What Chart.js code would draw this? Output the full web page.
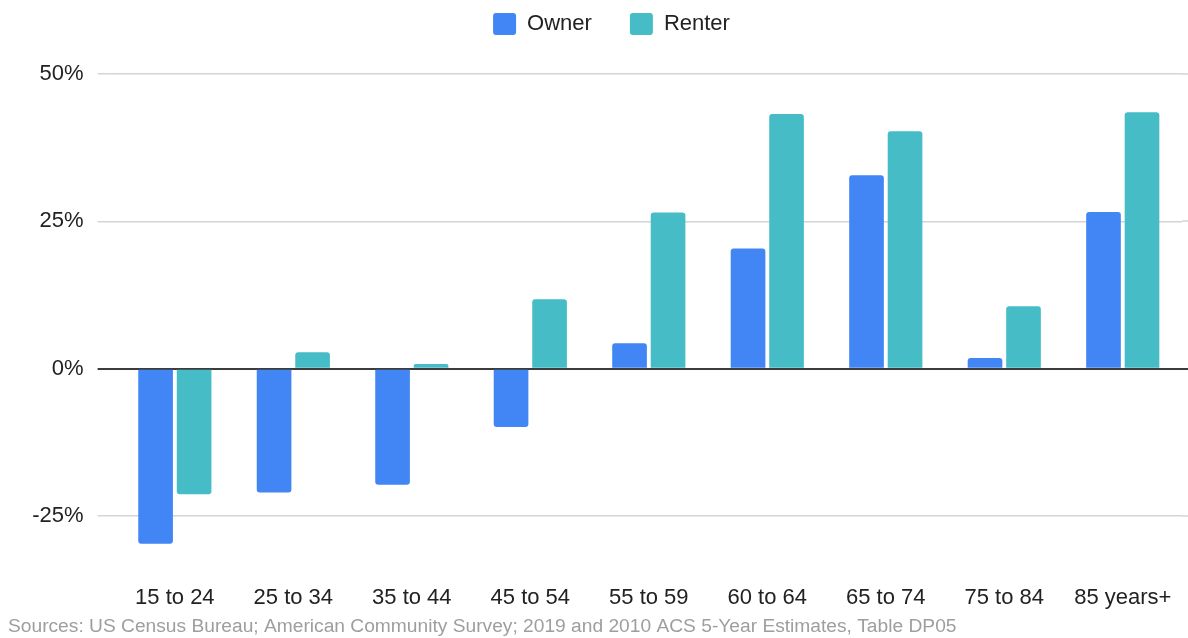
<!DOCTYPE html>
<html>
<head>
<meta charset="utf-8">
<script src="https://cdn.jsdelivr.net/npm/chart.js@4.4.1/dist/chart.umd.min.js"></script>
<style>
  html, body { margin: 0; padding: 0; background: #ffffff; overflow: hidden; }
  #wrap { position: relative; width: 1188px; height: 638px; }
</style>
</head>
<body>
<div id="wrap"><canvas id="chart" width="1188" height="638"></canvas></div>
<script>
// Change in householders by age group, 2010 to 2019 (percent)
const ageGroups = ['15 to 24', '25 to 34', '35 to 44', '45 to 54', '55 to 59', '60 to 64', '65 to 74', '75 to 84', '85 years+'];
const ownerChange = [-29.7, -21.0, -19.7, -9.9, 4.3, 20.4, 32.8, 1.8, 26.6];
const renterChange = [-21.3, 2.8, 0.8, 11.8, 26.5, 43.2, 40.3, 10.6, 43.5];
const yTickValues = [-25, 0, 25, 50];
const sourceNote = 'Sources: US Census Bureau; American Community Survey; 2019 and 2010 ACS 5-Year Estimates, Table DP05';

const FONT = "'Liberation Sans', Arial, Helvetica, sans-serif";

// Moves the legend row up into the top margin and slightly right of centre.
const legendShift = {
  id: 'legendShift',
  afterLayout(chart) {
    const lg = chart.legend;
    if (!lg) return;
    lg.top -= 29; lg.bottom -= 29;
    lg.left += 16.5; lg.right += 16.5;
  }
};

// Extends the horizontal grid lines to the right edge of the canvas.
const gridTail = {
  id: 'gridTail',
  beforeDatasetsDraw(chart) {
    const { ctx, chartArea, scales: { y } } = chart;
    ctx.save();
    y.ticks.forEach(t => {
      const py = Math.round(y.getPixelForValue(t.value));
      ctx.strokeStyle = t.value === 0 ? '#3c3c3c' : '#d4d4d4';
      ctx.lineWidth = t.value === 0 ? 2 : 1.5;
      ctx.beginPath();
      ctx.moveTo(chartArea.right, py);
      ctx.lineTo(chart.width, py);
      ctx.stroke();
    });
    ctx.restore();
  }
};

new Chart(document.getElementById('chart'), {
  type: 'bar',
  data: {
    labels: ageGroups,
    datasets: [
      {
        label: 'Owner',
        data: ownerChange,
        backgroundColor: '#4285F4',
        borderRadius: 3,
        categoryPercentage: 0.65,
        barPercentage: 0.9
      },
      {
        label: 'Renter',
        data: renterChange,
        backgroundColor: '#46BDC6',
        borderRadius: 3,
        categoryPercentage: 0.65,
        barPercentage: 0.9
      }
    ]
  },
  options: {
    responsive: false,
    animation: false,
    maintainAspectRatio: false,
    layout: { padding: { top: 4, left: 8, right: 6, bottom: 0 } },
    plugins: {
      legend: {
        position: 'top',
        align: 'center',
        labels: {
          boxWidth: 23,
          boxHeight: 22,
          padding: 38,
          color: '#222222',
          font: { family: FONT, size: 22 },
          generateLabels(chart) {
            return chart.data.datasets.map((ds, i) => ({
              text: ds.label,
              fillStyle: ds.backgroundColor,
              strokeStyle: ds.backgroundColor,
              lineWidth: 0,
              borderRadius: 3,
              fontColor: '#222222',
              datasetIndex: i,
              hidden: false
            }));
          }
        }
      },
      subtitle: {
        display: true,
        text: sourceNote,
        position: 'bottom',
        align: 'start',
        color: '#9e9e9e',
        font: { family: FONT, size: 19.2, weight: 'normal' },
        padding: { top: 0, bottom: 0 }
      },
      tooltip: { enabled: false }
    },
    scales: {
      x: {
        grid: { display: false, drawTicks: false },
        border: { display: false },
        ticks: {
          color: '#222222',
          font: { family: FONT, size: 22 },
          padding: 10,
          maxRotation: 0,
          autoSkip: false
        },
        afterFit(scale) { scale.height = 40; }
      },
      y: {
        min: -35,
        max: 50,
        border: { display: false },
        grid: {
          drawTicks: true,
          tickLength: 18,
          color: ctx => (ctx.tick && ctx.tick.value === 0) ? '#3c3c3c' : '#d4d4d4',
          lineWidth: ctx => (ctx.tick && ctx.tick.value === 0) ? 2 : 1.5
        },
        ticks: {
          color: '#222222',
          font: { family: FONT, size: 22 },
          padding: 14,
          callback: v => v + '%'
        },
        afterBuildTicks(scale) {
          scale.ticks = yTickValues.map(v => ({ value: v }));
        },
        afterFit(scale) { scale.width = 107.6; }
      }
    }
  },
  plugins: [legendShift, gridTail]
});
</script>
</body>
</html>
